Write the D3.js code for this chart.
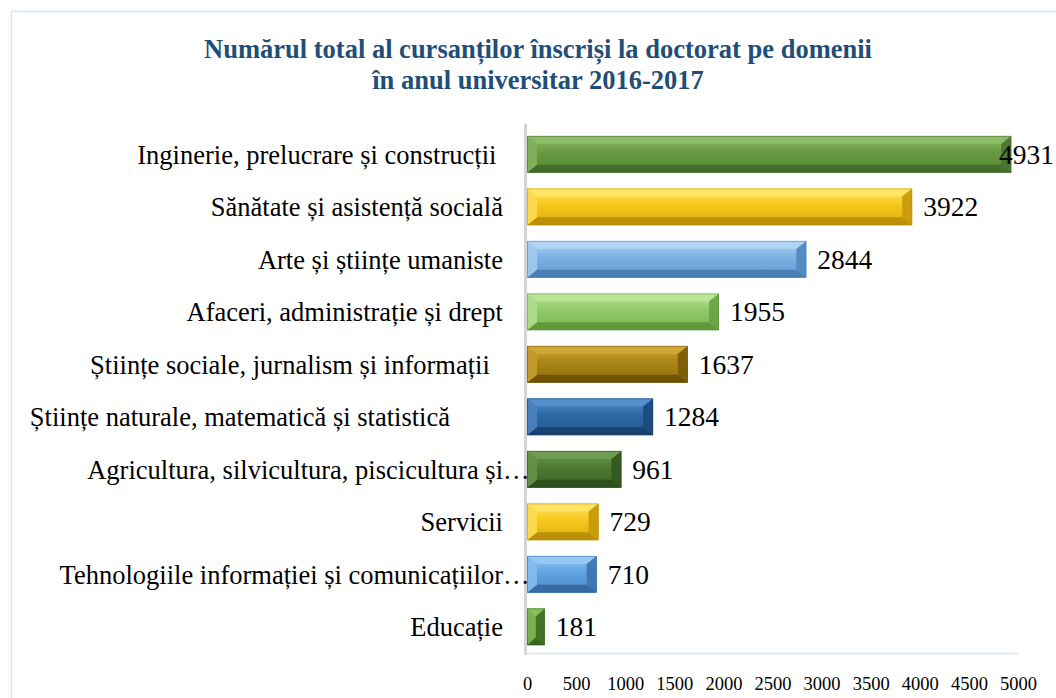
<!DOCTYPE html>
<html>
<head>
<meta charset="utf-8">
<script src="https://cdn.jsdelivr.net/npm/d3@7"></script>
<style>
  html, body { margin: 0; padding: 0; background: #fff; }
  svg { display: block; }
  text { font-family: "Liberation Serif", "Times New Roman", serif; }
</style>
</head>
<body>
<svg id="chart" width="1056" height="698"></svg>
<script>
// ---- data ----
const titleLines = [
  "Numărul total al cursanților înscriși la doctorat pe domenii",
  "în anul universitar 2016-2017"
];
const categories = [
  "Inginerie, prelucrare și construcții ",
  "Sănătate și asistență socială",
  "Arte și științe umaniste",
  "Afaceri, administrație și drept",
  "Științe sociale, jurnalism și informații  ",
  "Științe naturale, matematică și statistică        ",
  "Agricultura, silvicultura, piscicultura și…",
  "Servicii",
  "Tehnologiile informației și comunicațiilor…",
  "Educație"
];
const values = [4931, 3922, 2844, 1955, 1637, 1284, 961, 729, 710, 181];
const xTicks = [0, 500, 1000, 1500, 2000, 2500, 3000, 3500, 4000, 4500, 5000];

// palette: [face, light, dark]
const palette = [
  ["#679a42", "#8dbd66", "#42692a"],
  ["#f6c81c", "#ffe466", "#b98c08"],
  ["#79b2e3", "#b0d5f4", "#467cb2"],
  ["#90ca68", "#bde598", "#5d963a"],
  ["#aa8414", "#d0a838", "#6e5006"],
  ["#2d69a6", "#5590cc", "#173f6c"],
  ["#4c7a31", "#6f9c52", "#2b4d1a"],
  ["#f6c81c", "#ffe466", "#b98c08"],
  ["#5fa3e2", "#97c9f4", "#33689e"],
  ["#5e9d3b", "#86c15e", "#36621f"]
];

// ---- layout ----
const W = 1056, H = 698;
const plot = { left: 527, right: 1018, top: 128, bottom: 653 };

const svg = d3.select("#chart");
const defs = svg.append("defs");

// chart border
svg.append("rect")
  .attr("x", 11.5).attr("y", 11.5)
  .attr("width", W + 20).attr("height", H + 20)
  .attr("fill", "#fff").attr("stroke", "#dae5f1").attr("stroke-width", 1.5);

// title
svg.append("text")
  .attr("x", 538).attr("y", 58)
  .attr("text-anchor", "middle")
  .attr("font-weight", "bold")
  .attr("font-size", 26.5)
  .attr("fill", "#1f4e79")
  .selectAll("tspan").data(titleLines).join("tspan")
  .attr("x", 538).attr("dy", (d, i) => i === 0 ? 0 : 31)
  .text(d => d);

const x = d3.scaleLinear().domain([0, 5000]).range([plot.left, plot.right]);
const y = d3.scaleBand().domain(d3.range(categories.length))
  .range([plot.top, plot.bottom]).paddingInner(0.3).paddingOuter(0.15);

// bottom gridline
svg.append("line")
  .attr("x1", plot.left).attr("x2", x(5000))
  .attr("y1", plot.bottom + 0.5).attr("y2", plot.bottom + 0.5)
  .attr("stroke", "#d6e3f2").attr("stroke-width", 1.5);

// x axis (labels only)
const xAxis = d3.axisBottom(x).tickValues(xTicks).tickSize(0).tickPadding(0).tickFormat(d3.format("d"));
const gx = svg.append("g").attr("transform", `translate(0,${plot.bottom + 31})`).call(xAxis);
gx.select(".domain").remove();
gx.selectAll("text")
  .attr("font-family", "Liberation Serif, Times New Roman, serif")
  .attr("font-size", 18.5).attr("fill", "#000").attr("dy", "0.35em");

// gradients
palette.forEach((p, i) => {
  const g = defs.append("linearGradient").attr("id", "face" + i)
    .attr("x1", 0).attr("y1", 0).attr("x2", 0).attr("y2", 1);
  g.append("stop").attr("offset", "0%").attr("stop-color", p[1]);
  g.append("stop").attr("offset", "45%").attr("stop-color", p[0]);
  g.append("stop").attr("offset", "100%").attr("stop-color", d3.interpolateRgb(p[0], p[2])(0.45));
});

// bars
const bars = svg.append("g").selectAll("g.bar").data(values).join("g").attr("class", "bar");
bars.each(function (v, i) {
  const g = d3.select(this);
  const p = palette[i];
  const x0 = x(0), x1 = x(v), y0 = y(i), y1 = y(i) + y.bandwidth();
  const w = x1 - x0;
  const b = Math.min(10, w / 2), bv = 8;
  g.append("rect").attr("x", x0).attr("y", y0).attr("width", w).attr("height", y1 - y0)
    .attr("fill", "url(#face" + i + ")");
  const poly = (pts, fill, op) => g.append("polygon")
    .attr("points", pts.map(q => q.join(",")).join(" "))
    .attr("fill", fill).attr("fill-opacity", op == null ? 1 : op);
  poly([[x0, y0], [x1, y0], [x1 - b, y0 + bv], [x0 + b, y0 + bv]], p[1], 0.9);
  poly([[x0, y1], [x1, y1], [x1 - b, y1 - bv], [x0 + b, y1 - bv]], p[2], 0.9);
  poly([[x0, y0], [x0 + b, y0 + bv], [x0 + b, y1 - bv], [x0, y1]], d3.interpolateRgb(p[1], p[0])(0.35), 0.95);
  poly([[x1, y0], [x1 - b, y0 + bv], [x1 - b, y1 - bv], [x1, y1]], d3.interpolateRgb(p[0], p[2])(0.75), 0.95);
  g.append("rect").attr("x", x0 + 0.5).attr("y", y0 + 0.5).attr("width", Math.max(0, w - 1)).attr("height", y1 - y0 - 1)
    .attr("fill", "none").attr("stroke", p[2]).attr("stroke-opacity", 0.5).attr("stroke-width", 1);
});

// vertical axis line
svg.append("line")
  .attr("x1", plot.left - 1.5).attr("x2", plot.left - 1.5)
  .attr("y1", plot.top - 4).attr("y2", plot.bottom + 2)
  .attr("stroke", "#d4d4d4").attr("stroke-width", 3);

// category labels
const labelX = plot.left - 24;
const lab = svg.append("g").selectAll("g.lab").data(categories).join("g").attr("class", "lab");
lab.each(function (c, i) {
  const g = d3.select(this);
  const cy = y(i) + y.bandwidth() / 2;
  const trunc = c.endsWith("…");
  const main = trunc ? c.slice(0, -1) : c;
  g.append("text")
    .attr("x", labelX).attr("y", cy).attr("dy", "0.35em")
    .attr("text-anchor", "end")
    .attr("font-size", 26.5)
    .style("white-space", "pre")
    .attr("xml:space", "preserve")
    .text(main);
  if (trunc) {
    g.append("text")
      .attr("x", labelX).attr("y", cy).attr("dy", "0.35em")
      .attr("text-anchor", "start")
      .attr("font-size", 26.5)
      .text("…");
  }
});

// value labels
const vl = svg.append("g").selectAll("text").data(values).join("text")
  .attr("y", (d, i) => y(i) + y.bandwidth() / 2)
  .attr("dy", "0.35em")
  .attr("font-size", 27.5)
  .attr("fill", "#000")
  .text(d => d);
vl.each(function (d) {
  const len = this.getComputedTextLength();
  d3.select(this).attr("x", Math.min(x(d) + 11, W - 2 - len));
});
</script>
</body>
</html>
